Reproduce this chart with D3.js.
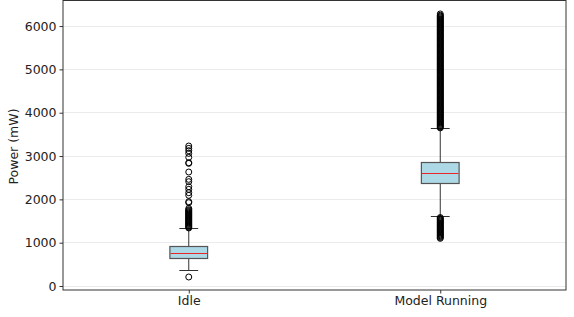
<!DOCTYPE html>
<html>
<head>
<meta charset="utf-8">
<script src="https://cdn.jsdelivr.net/npm/d3@7"></script>
<style>
	body { margin: 0; background: #fff; }
	svg { display: block; font-family: 'DejaVu Sans', sans-serif; }
</style>
</head>
<body>
<svg id="chart" width="574" height="317"></svg>
<script>
// box stats (mW)
const categories = ['Idle', 'Model Running']
const whiskerLow = [353, 1608]
const q1 = [630, 2361]
const median = [754, 2600]
const q3 = [907, 2862]
const whiskerHigh = [1322, 3630]

const yTicks = [0, 1000, 2000, 3000, 4000, 5000, 6000]

// outliers (fliers)
const idleOutliers = [
	208,
	1340, 1360, 1380, 1400, 1420, 1440, 1460, 1480, 1500, 1520, 1540, 1560,
	1580, 1600, 1620, 1640, 1660, 1680, 1700, 1720, 1740, 1760, 1790,
	1923, 1946, 2093, 2154, 2231, 2292, 2408, 2462, 2631, 2831, 2846,
	2970, 3062, 3123, 3177, 3231
]
const runningOutliers = [
	1100, 1120, 1140, 1160, 1180, 1200, 1220, 1240, 1260, 1280, 1300,
	1320, 1340, 1360, 1380, 1400, 1420, 1440, 1460, 1480, 1500, 1520,
	1540, 1560, 1580,
	3650, 3670, 3690, 3710, 3730, 3750, 3770, 3790, 3810, 3830, 3850,
	3870, 3890, 3910, 3930, 3950, 3970, 3990, 4010, 4030, 4050, 4070,
	4090, 4110, 4130, 4150, 4170, 4190, 4210, 4230, 4250, 4270, 4290,
	4310, 4330, 4350, 4370, 4390, 4410, 4430, 4450, 4470, 4490, 4510,
	4530, 4550, 4570, 4590, 4610, 4630, 4650, 4670, 4690, 4710, 4730,
	4750, 4770, 4790, 4810, 4830, 4850, 4870, 4890, 4910, 4930, 4950,
	4970, 4990, 5010, 5030, 5050, 5070, 5090, 5110, 5130, 5150, 5170,
	5190, 5210, 5230, 5250, 5270, 5290, 5310, 5330, 5350, 5370, 5390,
	5410, 5430, 5450, 5470, 5490, 5510, 5530, 5550, 5570, 5590, 5610,
	5630, 5650, 5670, 5690, 5710, 5730, 5750, 5770, 5790, 5810, 5830,
	5850, 5870, 5890, 5910, 5930, 5950, 5970, 5990, 6010, 6030, 6050,
	6070, 6090, 6110, 6130, 6150, 6170, 6190, 6210, 6230, 6250, 6280
]
const outliers = [idleOutliers, runningOutliers]

const margin = { top: 0.5, right: 8, bottom: 27, left: 63 }
const width = 574 - margin.left - margin.right
const height = 317 - margin.top - margin.bottom

const svg = d3.select('#chart')
const g = svg.append('g')
	.attr('transform', `translate(${margin.left},${margin.top})`)

// positions 1 and 2 on a 0.5..2.5 range like matplotlib
const x = d3.scaleLinear().domain([0.5, 2.5]).range([0, width])
const y = d3.scaleLinear().domain([-92, 6590]).range([height, 0])
const boxW = x(1.15) - x(1)
// snap horizontal lines to the pixel grid
const snap = v => Math.round(y(v)) 

// grid
g.append('g')
	.selectAll('line')
	.data(yTicks)
	.join('line')
	.attr('x1', 0)
	.attr('x2', width)
	.attr('y1', d => snap(d))
	.attr('y2', d => snap(d))
	.attr('stroke', '#ebebeb')
	.attr('stroke-width', 1)

const boxes = g.selectAll('g.box')
	.data(categories.map((c, i) => ({
		name: c, pos: i + 1,
		lo: whiskerLow[i], q1: q1[i], med: median[i], q3: q3[i], hi: whiskerHigh[i],
		out: outliers[i]
	})))
	.join('g')
	.attr('class', 'box')

// whiskers
boxes.append('line')
	.attr('x1', d => x(d.pos)).attr('x2', d => x(d.pos))
	.attr('y1', d => y(d.lo)).attr('y2', d => y(d.q1))
	.attr('stroke', '#333')
boxes.append('line')
	.attr('x1', d => x(d.pos)).attr('x2', d => x(d.pos))
	.attr('y1', d => y(d.q3)).attr('y2', d => y(d.hi))
	.attr('stroke', '#333')
// caps
boxes.selectAll('line.cap')
	.data(d => [d.lo, d.hi].map(v => ({ v, pos: d.pos })))
	.join('line')
	.attr('class', 'cap')
	.attr('x1', d => x(d.pos) - boxW / 4)
	.attr('x2', d => x(d.pos) + boxW / 4)
	.attr('y1', d => snap(d.v))
	.attr('y2', d => snap(d.v))
	.attr('stroke', '#333')

// box
boxes.append('rect')
	.attr('x', d => x(d.pos) - boxW / 2)
	.attr('y', d => snap(d.q3))
	.attr('width', boxW)
	.attr('height', d => snap(d.q1) - snap(d.q3))
	.attr('fill', '#add8e6')
	.attr('stroke', '#555')
	.attr('stroke-width', 1.2)
// median
boxes.append('line')
	.attr('x1', d => x(d.pos) - boxW / 2 + 0.6)
	.attr('x2', d => x(d.pos) + boxW / 2 - 0.6)
	.attr('y1', d => snap(d.med))
	.attr('y2', d => snap(d.med))
	.attr('stroke', '#e8262a')
	.attr('stroke-width', 1)

// fliers
boxes.selectAll('circle')
	.data(d => d.out.map(v => ({ v, pos: d.pos })))
	.join('circle')
	.attr('cx', d => x(d.pos))
	.attr('cy', d => y(d.v))
	.attr('r', 3)
	.attr('fill', 'none')
	.attr('stroke', '#000')
	.attr('stroke-width', 1)

// axes
const yAxis = g.append('g')
	.call(d3.axisLeft(y).tickValues(yTicks).tickSize(3.5).tickPadding(3).tickFormat(d3.format('d')))
const xAxis = g.append('g')
	.attr('transform', `translate(0,${height})`)
	.call(d3.axisBottom(x).tickValues([1, 2]).tickSize(3.5).tickPadding(3).tickFormat(d => categories[d - 1]))

;[yAxis, xAxis].forEach(a => {
	a.select('.domain').remove()
	a.selectAll('.tick line').attr('stroke', '#333')
	a.selectAll('.tick text')
		.attr('fill', '#222')
		.style('font-size', '12.5px')
		.style('font-family', "'DejaVu Sans', sans-serif")
})

// frame
g.append('rect')
	.attr('x', 0).attr('y', 0)
	.attr('width', width).attr('height', height)
	.attr('fill', 'none')
	.attr('stroke', '#333')
	.attr('stroke-width', 1)

svg.append('text')
	.attr('transform', `translate(17.5,${margin.top + 146}) rotate(-90)`)
	.attr('text-anchor', 'middle')
	.attr('fill', '#222')
	.style('font-size', '12.5px')
	.text('Power (mW)')
</script>
</body>
</html>
